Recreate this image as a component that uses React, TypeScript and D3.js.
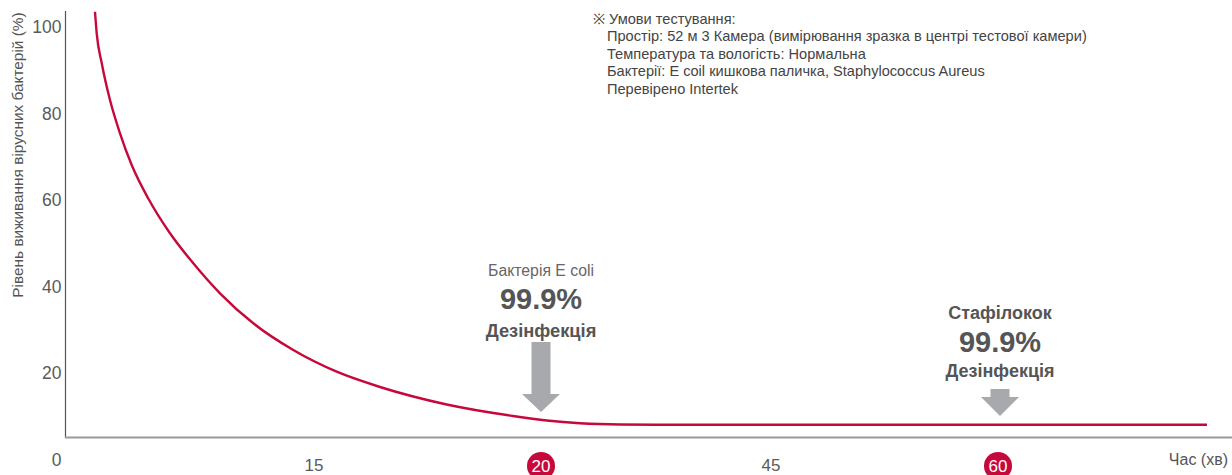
import React from "react";
import * as d3 from "d3";

// Survival curve: time (min) vs surviving bacteria (%)
const timeMin = [1.807, 1.91, 2.211, 2.711, 3.313, 4.018, 5.018, 6.325, 7.729, 9.337, 11.343, 13.753, 15.5, 16.454, 17.923, 19.383, 20.62, 24.24, 28.59, 35.11, 48, 60, 73.81];
const survival = [103.53, 98.54, 91.69, 83.14, 75.45, 68.13, 60.39, 52.36, 45.43, 38.5, 31.57, 25.4, 20.39, 16.86, 12.82, 10.16, 9.12, 8.48, 8.2, 8.15, 8.15, 8.15, 8.15];

const yTicks = [0, 20, 40, 60, 80, 100];
const xTicks = [15, 20, 45, 60];
const highlightedTicks = [20, 60];

const noteLines = [
  "Простір: 52 м 3 Камера (вимірювання зразка в центрі тестової камери)",
  "Температура та вологість: Нормальна",
  "Бактерії: E coil кишкова паличка, Staphylococcus Aureus",
  "Перевірено Intertek",
];

const W = 1232;
const H = 475;
const FONT = "'Liberation Sans', Arial, Helvetica, sans-serif";
const RED = "#c6083b";
const ARROW = "#a8a9ad";

export default function App() {
  // the time axis is drawn with uneven spacing between labelled minutes
  const x = d3.scaleLinear().domain([0, 15, 20, 45, 60]).range([65, 314, 541, 771, 998]);
  const y = d3.scaleLinear().domain([0, 100]).range([460, 27]);

  const plotTop = 11;
  const plotBottom = 437.5;
  const plotLeft = 65.5;

  const points = timeMin.map((t, i) => [t, survival[i]] as [number, number]);
  const line = d3
    .line<[number, number]>()
    .x((d) => x(d[0]))
    .y((d) => y(d[1]))
    .curve(d3.curveMonotoneX);

  const arrow = (cx: number, top: number, headStart: number, tip: number) => {
    const sw = 9.5;
    const hw = 19;
    return `M${cx - sw},${top} L${cx + sw},${top} L${cx + sw},${headStart} L${cx + hw},${headStart} L${cx},${tip} L${cx - hw},${headStart} L${cx - sw},${headStart} Z`;
  };

  const ax20 = x(20);
  const ax60 = x(60) + 2;

  return (
    <svg
      width={W}
      height={H}
      style={{ position: "absolute", left: 0, top: 0, display: "block", background: "#fff" }}
      fontFamily={FONT}
    >
      <defs>
        <clipPath id="plot-clip">
          <rect x={plotLeft} y={plotTop} width={W - plotLeft} height={plotBottom - plotTop} />
        </clipPath>
      </defs>

      {/* y axis title */}
      <text
        transform={`translate(17,155) rotate(-90)`}
        textAnchor="middle"
        dominantBaseline="central"
        fontSize={15.4}
        fill="#555"
      >
        Рівень виживання вірусних бактерій (%)
      </text>

      {/* y tick labels */}
      {yTicks.map((t) => (
        <text key={t} x={61.5} y={y(t)} textAnchor="end" dominantBaseline="central" fontSize={17.5} fill="#5a5a5a">
          {t}
        </text>
      ))}

      {/* axes */}
      <line x1={plotLeft} x2={plotLeft} y1={plotTop} y2={plotBottom} stroke="#555" strokeWidth={1.2} />
      <line x1={plotLeft - 0.6} x2={W} y1={plotBottom} y2={plotBottom} stroke="#9a9a9a" strokeWidth={2.2} />

      {/* survival curve */}
      <path d={line(points) ?? ""} fill="none" stroke={RED} strokeWidth={2.4} clipPath="url(#plot-clip)" />

      {/* x tick labels */}
      {xTicks.map((t) =>
        highlightedTicks.includes(t) ? (
          <g key={t}>
            <circle cx={x(t)} cy={466} r={14} fill={RED} />
            <text x={x(t)} y={466} textAnchor="middle" dominantBaseline="central" fontSize={17} fill="#fff">
              {t}
            </text>
          </g>
        ) : (
          <text key={t} x={x(t)} y={465.5} textAnchor="middle" dominantBaseline="central" fontSize={17} fill="#5a5a5a">
            {t}
          </text>
        )
      )}
      <text x={1228} y={459} textAnchor="end" dominantBaseline="central" fontSize={16} fill="#555">
        Час (хв)
      </text>

      {/* E. coli annotation */}
      <text x={ax20} y={270} textAnchor="middle" dominantBaseline="central" fontSize={15.8} fill="#666">
        Бактерія E coli
      </text>
      <text x={ax20} y={299} textAnchor="middle" dominantBaseline="central" fontSize={29} fontWeight="bold" fill="#555">
        99.9%
      </text>
      <text x={ax20} y={330} textAnchor="middle" dominantBaseline="central" fontSize={18.3} fontWeight="bold" fill="#555">
        Дезінфекція
      </text>
      <path d={arrow(ax20, 342, 394, 412)} fill={ARROW} />

      {/* Staphylococcus annotation */}
      <text x={ax60} y={313} textAnchor="middle" dominantBaseline="central" fontSize={18} fontWeight="bold" fill="#555">
        Стафілокок
      </text>
      <text x={ax60} y={341.5} textAnchor="middle" dominantBaseline="central" fontSize={29} fontWeight="bold" fill="#555">
        99.9%
      </text>
      <text x={ax60} y={371} textAnchor="middle" dominantBaseline="central" fontSize={18} fontWeight="bold" fill="#555">
        Дезінфекція
      </text>
      <path d={arrow(ax60, 389, 397, 416)} fill={ARROW} />

      {/* test conditions note */}
      <text x={593} y={18.5} dominantBaseline="central" fontSize={14.6} fill="#444">
        ※ Умови тестування:
      </text>
      {noteLines.map((s, i) => (
        <text key={i} x={607} y={36 + i * 17.5} dominantBaseline="central" fontSize={14.6} fill="#444">
          {s}
        </text>
      ))}
    </svg>
  );
}
